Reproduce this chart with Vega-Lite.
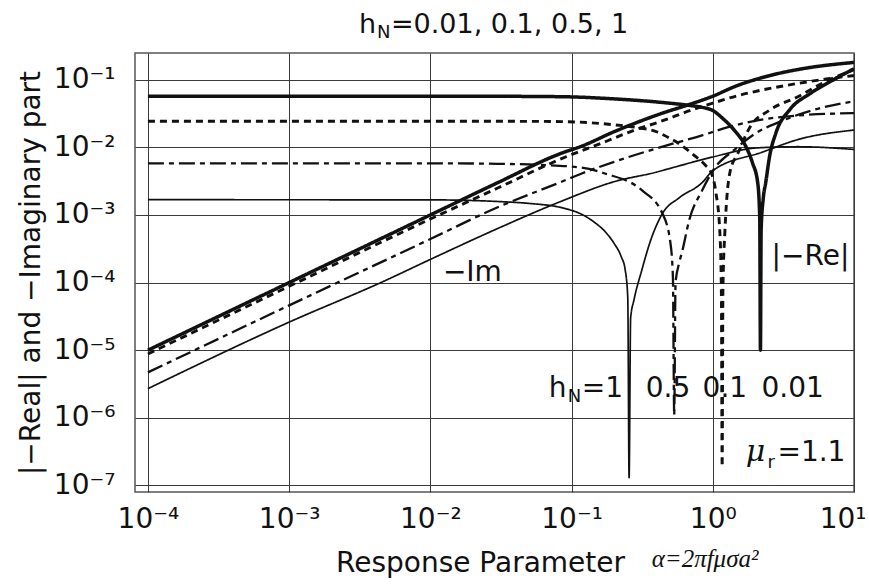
{
  "$schema": "https://vega.github.io/schema/vega-lite/v6.json",
  "width": 719,
  "height": 439,
  "autosize": {"type": "none"},
  "padding": {"left": 135, "top": 53, "right": 15, "bottom": 92},
  "background": "white",
  "config": {
    "view": {"stroke": "#555", "strokeWidth": 1.5},
    "font": "DejaVu Sans",
    "axis": {
      "grid": true, "gridColor": "#3a3a3a", "gridWidth": 1, "ticks": false, "domain": false,
      "labelFont": "DejaVu Sans", "labelFontSize": 28, "labelColor": "#111",
      "titleFont": "DejaVu Sans", "titleFontSize": 28, "titleFontWeight": "normal", "titleColor": "#111",
      "labelOverlap": false, "labelBound": false
    }
  },
  "datasets": {
    "curves": [
      {"h":"0.01","p":"Re","a":0.0001,"v":0.057},{"h":"0.01","p":"Re","a":0.001,"v":0.057},{"h":"0.01","p":"Re","a":0.01,"v":0.057},{"h":"0.01","p":"Re","a":0.03,"v":0.0568},{"h":"0.01","p":"Re","a":0.085,"v":0.056},{"h":"0.01","p":"Re","a":0.2,"v":0.052},{"h":"0.01","p":"Re","a":0.44,"v":0.046},{"h":"0.01","p":"Re","a":0.66,"v":0.042},{"h":"0.01","p":"Re","a":0.84,"v":0.039},{"h":"0.01","p":"Re","a":1.0,"v":0.035},{"h":"0.01","p":"Re","a":1.17,"v":0.027},{"h":"0.01","p":"Re","a":1.45,"v":0.017},{"h":"0.01","p":"Re","a":1.71,"v":0.0104},{"h":"0.01","p":"Re","a":1.91,"v":0.0059},{"h":"0.01","p":"Re","a":2.08,"v":0.003},{"h":"0.01","p":"Re","a":2.15,"v":0.0009},{"h":"0.01","p":"Re","a":2.175,"v":0.00001},{"h":"0.01","p":"Re","a":2.2,"v":0.0006},{"h":"0.01","p":"Re","a":2.28,"v":0.0018},{"h":"0.01","p":"Re","a":2.37,"v":0.003},{"h":"0.01","p":"Re","a":2.53,"v":0.0075},{"h":"0.01","p":"Re","a":2.79,"v":0.016},{"h":"0.01","p":"Re","a":3.51,"v":0.036},{"h":"0.01","p":"Re","a":4.87,"v":0.062},{"h":"0.01","p":"Re","a":6.75,"v":0.093},{"h":"0.01","p":"Re","a":10,"v":0.145},
      {"h":"0.01","p":"Im","a":0.0001,"v":0.00001},{"h":"0.01","p":"Im","a":0.001,"v":0.0001},{"h":"0.01","p":"Im","a":0.01,"v":0.001},{"h":"0.01","p":"Im","a":0.03,"v":0.003},{"h":"0.01","p":"Im","a":0.085,"v":0.0082},{"h":"0.01","p":"Im","a":0.118,"v":0.0104},{"h":"0.01","p":"Im","a":0.2,"v":0.017},{"h":"0.01","p":"Im","a":0.44,"v":0.032},{"h":"0.01","p":"Im","a":0.66,"v":0.042},{"h":"0.01","p":"Im","a":1.0,"v":0.057},{"h":"0.01","p":"Im","a":1.45,"v":0.08},{"h":"0.01","p":"Im","a":2.53,"v":0.115},{"h":"0.01","p":"Im","a":4.3,"v":0.145},{"h":"0.01","p":"Im","a":10,"v":0.18},
      {"h":"0.1","p":"Re","a":0.0001,"v":0.0243},{"h":"0.1","p":"Re","a":0.01,"v":0.0243},{"h":"0.1","p":"Re","a":0.05,"v":0.0242},{"h":"0.1","p":"Re","a":0.085,"v":0.024},{"h":"0.1","p":"Re","a":0.193,"v":0.0217},{"h":"0.1","p":"Re","a":0.3,"v":0.0194},{"h":"0.1","p":"Re","a":0.4,"v":0.017},{"h":"0.1","p":"Re","a":0.44,"v":0.0155},{"h":"0.1","p":"Re","a":0.58,"v":0.0112},{"h":"0.1","p":"Re","a":0.75,"v":0.0074},{"h":"0.1","p":"Re","a":0.89,"v":0.0054},{"h":"0.1","p":"Re","a":0.96,"v":0.0045},{"h":"0.1","p":"Re","a":1.05,"v":0.0022},{"h":"0.1","p":"Re","a":1.12,"v":0.0006},{"h":"0.1","p":"Re","a":1.15,"v":0.00008},{"h":"0.1","p":"Re","a":1.165,"v":0.00000019},{"h":"0.1","p":"Re","a":1.18,"v":0.00008},{"h":"0.1","p":"Re","a":1.22,"v":0.0006},{"h":"0.1","p":"Re","a":1.33,"v":0.0045},{"h":"0.1","p":"Re","a":1.5,"v":0.008},{"h":"0.1","p":"Re","a":1.85,"v":0.0205},{"h":"0.1","p":"Re","a":2.5,"v":0.035},{"h":"0.1","p":"Re","a":4,"v":0.056},{"h":"0.1","p":"Re","a":6.5,"v":0.097},{"h":"0.1","p":"Re","a":10,"v":0.14},
      {"h":"0.1","p":"Im","a":0.0001,"v":0.0000088},{"h":"0.1","p":"Im","a":0.001,"v":0.000088},{"h":"0.1","p":"Im","a":0.01,"v":0.00087},{"h":"0.1","p":"Im","a":0.03,"v":0.0025},{"h":"0.1","p":"Im","a":0.085,"v":0.0068},{"h":"0.1","p":"Im","a":0.18,"v":0.0125},{"h":"0.1","p":"Im","a":0.29,"v":0.0185},{"h":"0.1","p":"Im","a":0.4,"v":0.023},{"h":"0.1","p":"Im","a":0.72,"v":0.036},{"h":"0.1","p":"Im","a":1.0,"v":0.045},{"h":"0.1","p":"Im","a":1.5,"v":0.058},{"h":"0.1","p":"Im","a":2.07,"v":0.068},{"h":"0.1","p":"Im","a":4,"v":0.088},{"h":"0.1","p":"Im","a":6.5,"v":0.103},{"h":"0.1","p":"Im","a":10,"v":0.115},
      {"h":"0.5","p":"Re","a":0.0001,"v":0.0058},{"h":"0.5","p":"Re","a":0.01,"v":0.0058},{"h":"0.5","p":"Re","a":0.03,"v":0.0057},{"h":"0.5","p":"Re","a":0.06,"v":0.0055},{"h":"0.5","p":"Re","a":0.118,"v":0.005},{"h":"0.5","p":"Re","a":0.172,"v":0.0041},{"h":"0.5","p":"Re","a":0.316,"v":0.0023},{"h":"0.5","p":"Re","a":0.44,"v":0.00105},{"h":"0.5","p":"Re","a":0.5,"v":0.0004},{"h":"0.5","p":"Re","a":0.522,"v":0.00012},{"h":"0.5","p":"Re","a":0.533,"v":0.0000011},{"h":"0.5","p":"Re","a":0.545,"v":0.0001},{"h":"0.5","p":"Re","a":0.58,"v":0.0002},{"h":"0.5","p":"Re","a":0.61,"v":0.0003},{"h":"0.5","p":"Re","a":0.68,"v":0.00083},{"h":"0.5","p":"Re","a":0.84,"v":0.0023},{"h":"0.5","p":"Re","a":1.0,"v":0.0045},{"h":"0.5","p":"Re","a":1.45,"v":0.0095},{"h":"0.5","p":"Re","a":2.0,"v":0.016},{"h":"0.5","p":"Re","a":3.0,"v":0.024},{"h":"0.5","p":"Re","a":5.0,"v":0.035},{"h":"0.5","p":"Re","a":10,"v":0.048},
      {"h":"0.5","p":"Im","a":0.0001,"v":0.0000047},{"h":"0.5","p":"Im","a":0.001,"v":0.000046},{"h":"0.5","p":"Im","a":0.01,"v":0.00044},{"h":"0.5","p":"Im","a":0.03,"v":0.0013},{"h":"0.5","p":"Im","a":0.085,"v":0.0031},{"h":"0.5","p":"Im","a":0.118,"v":0.0041},{"h":"0.5","p":"Im","a":0.2,"v":0.0061},{"h":"0.5","p":"Im","a":0.46,"v":0.0105},{"h":"0.5","p":"Im","a":0.84,"v":0.015},{"h":"0.5","p":"Im","a":1.3,"v":0.02},{"h":"0.5","p":"Im","a":2.07,"v":0.025},{"h":"0.5","p":"Im","a":4,"v":0.0295},{"h":"0.5","p":"Im","a":10,"v":0.032},
      {"h":"1","p":"Re","a":0.0001,"v":0.00168},{"h":"1","p":"Re","a":0.01,"v":0.00167},{"h":"1","p":"Re","a":0.03,"v":0.00158},{"h":"1","p":"Re","a":0.05,"v":0.00148},{"h":"1","p":"Re","a":0.085,"v":0.00128},{"h":"1","p":"Re","a":0.118,"v":0.00102},{"h":"1","p":"Re","a":0.145,"v":0.00078},{"h":"1","p":"Re","a":0.175,"v":0.00055},{"h":"1","p":"Re","a":0.2,"v":0.00038},{"h":"1","p":"Re","a":0.225,"v":0.00024},{"h":"1","p":"Re","a":0.239,"v":0.00016},{"h":"1","p":"Re","a":0.25,"v":0.00006},{"h":"1","p":"Re","a":0.2555,"v":0.00000013},{"h":"1","p":"Re","a":0.262,"v":0.00003},{"h":"1","p":"Re","a":0.277,"v":0.000056},{"h":"1","p":"Re","a":0.315,"v":0.000155},{"h":"1","p":"Re","a":0.36,"v":0.0004},{"h":"1","p":"Re","a":0.44,"v":0.00105},{"h":"1","p":"Re","a":0.58,"v":0.0018},{"h":"1","p":"Re","a":0.84,"v":0.003},{"h":"1","p":"Re","a":1.0,"v":0.0045},{"h":"1","p":"Re","a":2.25,"v":0.0085},{"h":"1","p":"Re","a":4,"v":0.013},{"h":"1","p":"Re","a":10,"v":0.018},
      {"h":"1","p":"Im","a":0.0001,"v":0.0000027},{"h":"1","p":"Im","a":0.001,"v":0.000026},{"h":"1","p":"Im","a":0.0047,"v":0.000105},{"h":"1","p":"Im","a":0.01,"v":0.00022},{"h":"1","p":"Im","a":0.03,"v":0.00063},{"h":"1","p":"Im","a":0.085,"v":0.0016},{"h":"1","p":"Im","a":0.2,"v":0.0031},{"h":"1","p":"Im","a":0.4,"v":0.0043},{"h":"1","p":"Im","a":0.52,"v":0.005},{"h":"1","p":"Im","a":1.0,"v":0.0072},{"h":"1","p":"Im","a":2.07,"v":0.0098},{"h":"1","p":"Im","a":4,"v":0.0102},{"h":"1","p":"Im","a":10,"v":0.0093}
    ],
    "big": [
      {"t":"−Im","a":0.01227,"v":0.000105},
      {"t":"|−Re|","a":2.61,"v":0.000183},
      {"t":"h","a":0.069,"v":0.00000205},
      {"t":"=1","a":0.118,"v":0.00000205},
      {"t":"0.5","a":0.335,"v":0.00000205},
      {"t":"0.1","a":0.847,"v":0.00000205},
      {"t":"0.01","a":2.21,"v":0.00000205},
      {"t":"=1.1","a":2.87,"v":0.000000226}
    ],
    "ttl": [
      {"t":"h","a":0.00313,"v":0.496},
      {"t":"=0.01, 0.1, 0.5, 1","a":0.00526,"v":0.496}
    ],
    "sub": [
      {"t":"N","a":0.094,"v":0.00000173},
      {"t":"r","a":2.44,"v":0.000000182},
      {"t":"N","a":0.00419,"v":0.418}
    ],
    "mu": [{"t":"μ","a":1.71,"v":0.000000226}],
    "formula": [{"t":"α=2πfμσa²","a":0.369,"v":0.0000000063}]
  },
  "encoding": {
    "x": {"field":"a","type":"quantitative",
      "scale":{"type":"log","domain":[0.000081,10],"nice":false},
      "axis":{"values":[0.0001,0.001,0.01,0.1,1,10],
        "labelExpr":"datum.value < 0.0005 ? '10⁻⁴' : datum.value < 0.005 ? '10⁻³' : datum.value < 0.05 ? '10⁻²' : datum.value < 0.5 ? '10⁻¹' : datum.value < 5 ? '10⁰' : '10¹'",
        "labelFlush":1,"labelFlushOffset":12,
        "labelPadding":13,"title":"Response Parameter","titlePadding":16,"titleX":345}},
    "y": {"field":"v","type":"quantitative",
      "scale":{"type":"log","domain":[0.00000008,0.248],"nice":false},
      "axis":{"values":[0.0000001,0.000001,0.00001,0.0001,0.001,0.01,0.1],
        "labelExpr":"datum.value < 0.0000005 ? '10⁻⁷' : datum.value < 0.000005 ? '10⁻⁶' : datum.value < 0.00005 ? '10⁻⁵' : datum.value < 0.0005 ? '10⁻⁴' : datum.value < 0.005 ? '10⁻³' : datum.value < 0.05 ? '10⁻²' : '10⁻¹'",
        "labelFlush":false,
        "labelPadding":20,"title":"|−Real| and −Imaginary part","titlePadding":8}}
  },
  "layer": [
    {"data":{"name":"curves"},
     "mark":{"type":"line","interpolate":"monotone","clip":true,"color":"#111"},
     "encoding":{
       "detail":[{"field":"h"},{"field":"p"}],
       "strokeDash":{"field":"h","type":"nominal","scale":{"domain":["0.01","0.1","0.5","1"],"range":[[1,0],[7,5],[16,5,5,5],[1,0]]},"legend":null},
       "strokeWidth":{"field":"h","type":"nominal","scale":{"domain":["0.01","0.1","0.5","1"],"range":[3.5,1.7,1.6,1.2]},"legend":null}
     }},
    {"data":{"name":"big"},
     "mark":{"type":"text","align":"left","baseline":"alphabetic","font":"DejaVu Sans","fontSize":28,"color":"#111"},
     "encoding":{"text":{"field":"t"}}},
    {"data":{"name":"ttl"},
     "mark":{"type":"text","align":"left","baseline":"alphabetic","font":"DejaVu Sans","fontSize":27,"color":"#111"},
     "encoding":{"text":{"field":"t"}}},
    {"data":{"name":"sub"},
     "mark":{"type":"text","align":"left","baseline":"alphabetic","font":"DejaVu Sans","fontSize":18,"color":"#111"},
     "encoding":{"text":{"field":"t"}}},
    {"data":{"name":"mu"},
     "mark":{"type":"text","align":"left","baseline":"alphabetic","font":"DejaVu Serif","fontStyle":"italic","fontSize":30,"color":"#111"},
     "encoding":{"text":{"field":"t"}}},
    {"data":{"name":"formula"},
     "mark":{"type":"text","align":"left","baseline":"alphabetic","font":"Liberation Serif","fontStyle":"italic","fontSize":25,"color":"#111"},
     "encoding":{"text":{"field":"t"}}}
  ]
}
